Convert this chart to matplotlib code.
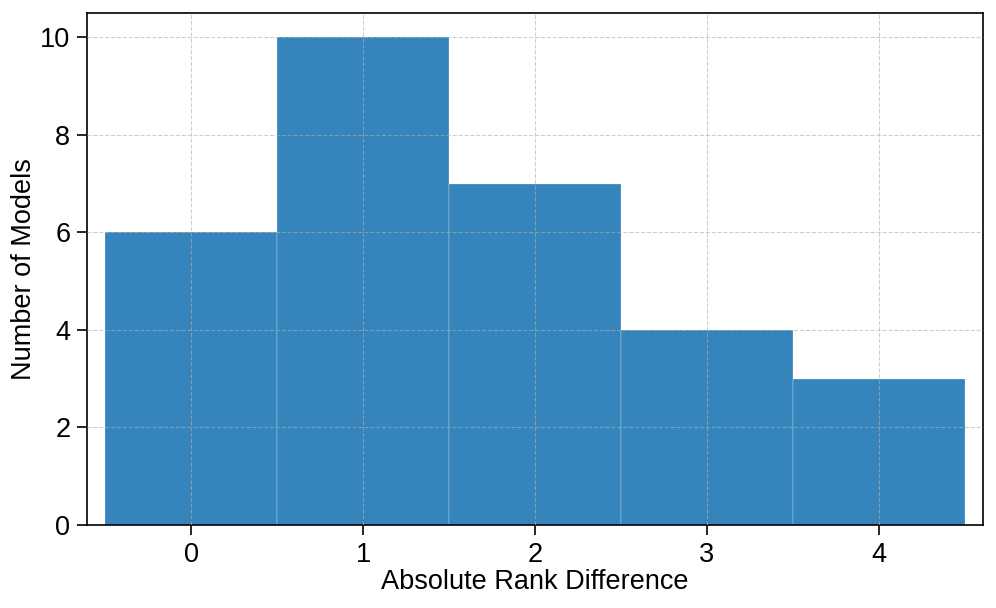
import matplotlib
matplotlib.use("Agg")
from matplotlib import pyplot as plt

# Data
rank_diff = [0, 1, 2, 3, 4]
n_models = [6, 10, 7, 4, 3]

plt.rcParams['font.family'] = ['Liberation Sans', 'DejaVu Sans']

fig = plt.figure(figsize=(9.96, 6.08), dpi=100)
ax = fig.add_axes([87 / 996, 1 - 525 / 608, (983 - 87) / 996, (525 - 13) / 608])

ax.bar(rank_diff, n_models, width=1.0, color='#1f77b4', alpha=0.9,
       edgecolor='white', linewidth=0.2)

ax.set_xlim(-0.605, 4.605)
ax.set_ylim(0, 10.5)
ax.set_xticks(rank_diff)
ax.set_yticks([0, 2, 4, 6, 8, 10])
ax.tick_params(labelsize=19.5, length=7, width=1.2, pad=5)
ax.set_xlabel("Absolute Rank Difference", fontsize=19.5, labelpad=1)
ax.set_ylabel("Number of Models", fontsize=19.5, labelpad=2)

ax.grid(True, linestyle='--', color='#b0b0b0', alpha=0.6, zorder=3)
ax.set_axisbelow(False)
for s in ax.spines.values():
    s.set_linewidth(1.2)

fig.savefig("out.png", dpi=100)
